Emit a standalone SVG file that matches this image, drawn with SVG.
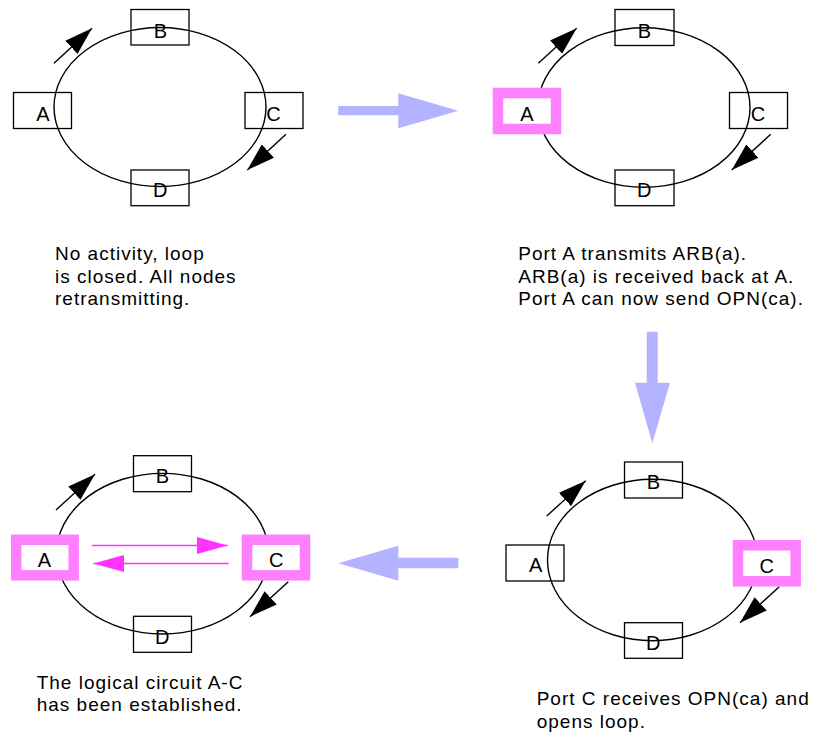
<svg xmlns="http://www.w3.org/2000/svg" width="815" height="738" viewBox="0 0 815 738">
<defs>
<style>
.loop{fill:none;stroke:#000;stroke-width:1.4}
.box{fill:none;stroke:#000;stroke-width:1.3}
.hot{fill:#fff;stroke:#ff80ff;stroke-width:10.5}
.lbl{font-family:"Liberation Sans",Arial,sans-serif;font-size:20px;fill:#000;text-anchor:middle}
.cap{font-family:"Liberation Sans",Arial,sans-serif;font-size:19px;letter-spacing:1px;fill:#000}
.dir{stroke:#000;stroke-width:1.4;fill:none;marker-end:url(#hd)}
.ckt{stroke:#ff33ff;stroke-width:1.4;fill:none;marker-end:url(#hm)}
.big{fill:#b3b3ff;stroke:none}
</style>
<marker id="hd" markerUnits="userSpaceOnUse" markerWidth="28" markerHeight="18" refX="28" refY="9" orient="auto" viewBox="0 0 28 18">
<path d="M0,0 L28,9 L0,18 Z" fill="#000"/>
</marker>
<marker id="hm" markerUnits="userSpaceOnUse" markerWidth="31" markerHeight="17" refX="31" refY="8.5" orient="auto" viewBox="0 0 31 17">
<path d="M0,0 L31,8.5 L0,17 Z" fill="#ff33ff"/>
</marker>
</defs>
<rect width="815" height="738" fill="#fff"/>

<g id="loops">
<ellipse class="loop" cx="160" cy="107" rx="106" ry="79.5"/>
<ellipse class="loop" cx="644" cy="107.5" rx="106" ry="79.8"/>
<ellipse class="loop" cx="162.5" cy="553.7" rx="106" ry="80.3"/>
<ellipse class="loop" cx="652.5" cy="560" rx="105" ry="80.7"/>
</g>

<g id="connectors">
<line class="dir" x1="54" y1="63.3" x2="92" y2="28.3"/>
<line class="dir" x1="286" y1="134.3" x2="247.3" y2="170"/>
<line class="dir" x1="538.3" y1="63.3" x2="576.7" y2="28.3"/>
<line class="dir" x1="770.7" y1="134.3" x2="731.7" y2="170"/>
<line class="dir" x1="56" y1="510" x2="95" y2="474.3"/>
<line class="dir" x1="288.3" y1="581.7" x2="250" y2="616.7"/>
<line class="dir" x1="546.7" y1="516" x2="585.7" y2="480.7"/>
<line class="dir" x1="779.3" y1="586.7" x2="740" y2="622.7"/>
<line class="ckt" x1="92" y1="545.5" x2="227.7" y2="545.5"/>
<line class="ckt" x1="228.7" y1="563.5" x2="93.3" y2="563.5"/>
<polygon class="big" points="338.3,106 398.3,106 398.3,93.3 458.3,110.7 398.3,128.3 398.3,115.3 338.3,115.3"/>
<polygon class="big" points="646.7,331.7 657.7,331.7 657.7,382.7 670,382.7 652.3,443.3 635,382.7 646.7,382.7"/>
<polygon class="big" points="458.3,557.7 398.3,557.7 398.3,545.7 338.3,563.3 398.3,580.7 398.3,568.3 458.3,568.3"/>
</g>

<g id="p1-A"><rect class="box" x="13.5" y="92.5" width="58" height="36"/><text class="lbl" x="43" y="120.5">A</text></g>
<g id="p1-B"><rect class="box" x="131" y="9.5" width="58" height="35.5"/><text class="lbl" x="160.3" y="37.5">B</text></g>
<g id="p1-C"><rect class="box" x="245" y="92.5" width="58" height="36"/><text class="lbl" x="273.5" y="121">C</text></g>
<g id="p1-D"><rect class="box" x="131" y="170" width="58" height="35.7"/><text class="lbl" x="160.3" y="197">D</text></g>

<g id="p2-A"><rect class="hot" x="498" y="93" width="58" height="36"/><text class="lbl" x="527" y="120.5">A</text></g>
<g id="p2-B"><rect class="box" x="615" y="9.5" width="59" height="36"/><text class="lbl" x="644.3" y="37.5">B</text></g>
<g id="p2-C"><rect class="box" x="729.5" y="92.5" width="58" height="36"/><text class="lbl" x="758" y="121">C</text></g>
<g id="p2-D"><rect class="box" x="615" y="170" width="59" height="35.7"/><text class="lbl" x="644.3" y="197">D</text></g>

<g id="p3-A"><rect class="hot" x="16.2" y="539.8" width="57.5" height="35.5"/><text class="lbl" x="44.3" y="566.5">A</text></g>
<g id="p3-B"><rect class="box" x="133.5" y="455.7" width="58" height="36"/><text class="lbl" x="162.3" y="483.3">B</text></g>
<g id="p3-C"><rect class="hot" x="247" y="539.8" width="58" height="35.5"/><text class="lbl" x="276.3" y="566.5">C</text></g>
<g id="p3-D"><rect class="box" x="133.5" y="616.3" width="58" height="36"/><text class="lbl" x="162.3" y="644">D</text></g>

<g id="p4-A"><rect class="box" x="506" y="545" width="58" height="36"/><text class="lbl" x="535.7" y="571.5">A</text></g>
<g id="p4-B"><rect class="box" x="624.5" y="462" width="58" height="36"/><text class="lbl" x="653.3" y="489.3">B</text></g>
<g id="p4-C"><rect class="hot" x="738" y="545.3" width="57.7" height="36"/><text class="lbl" x="766.7" y="572.5">C</text></g>
<g id="p4-D"><rect class="box" x="624.5" y="622.7" width="58" height="35.6"/><text class="lbl" x="653.3" y="650">D</text></g>

<g id="captions">
<text class="cap" x="55" y="260">No activity, loop</text>
<text class="cap" x="55" y="282.5">is closed. All nodes</text>
<text class="cap" x="55" y="305">retransmitting.</text>
<text class="cap" x="518.3" y="260">Port A transmits ARB(a).</text>
<text class="cap" x="518.3" y="282.5">ARB(a) is received back at A.</text>
<text class="cap" x="518.3" y="305">Port A can now send OPN(ca).</text>
<text class="cap" x="36.7" y="688.5">The logical circuit A-C</text>
<text class="cap" x="36.7" y="711">has been established.</text>
<text class="cap" x="536.7" y="705">Port C receives OPN(ca) and</text>
<text class="cap" x="536.7" y="727.5">opens loop.</text>
</g>
</svg>
